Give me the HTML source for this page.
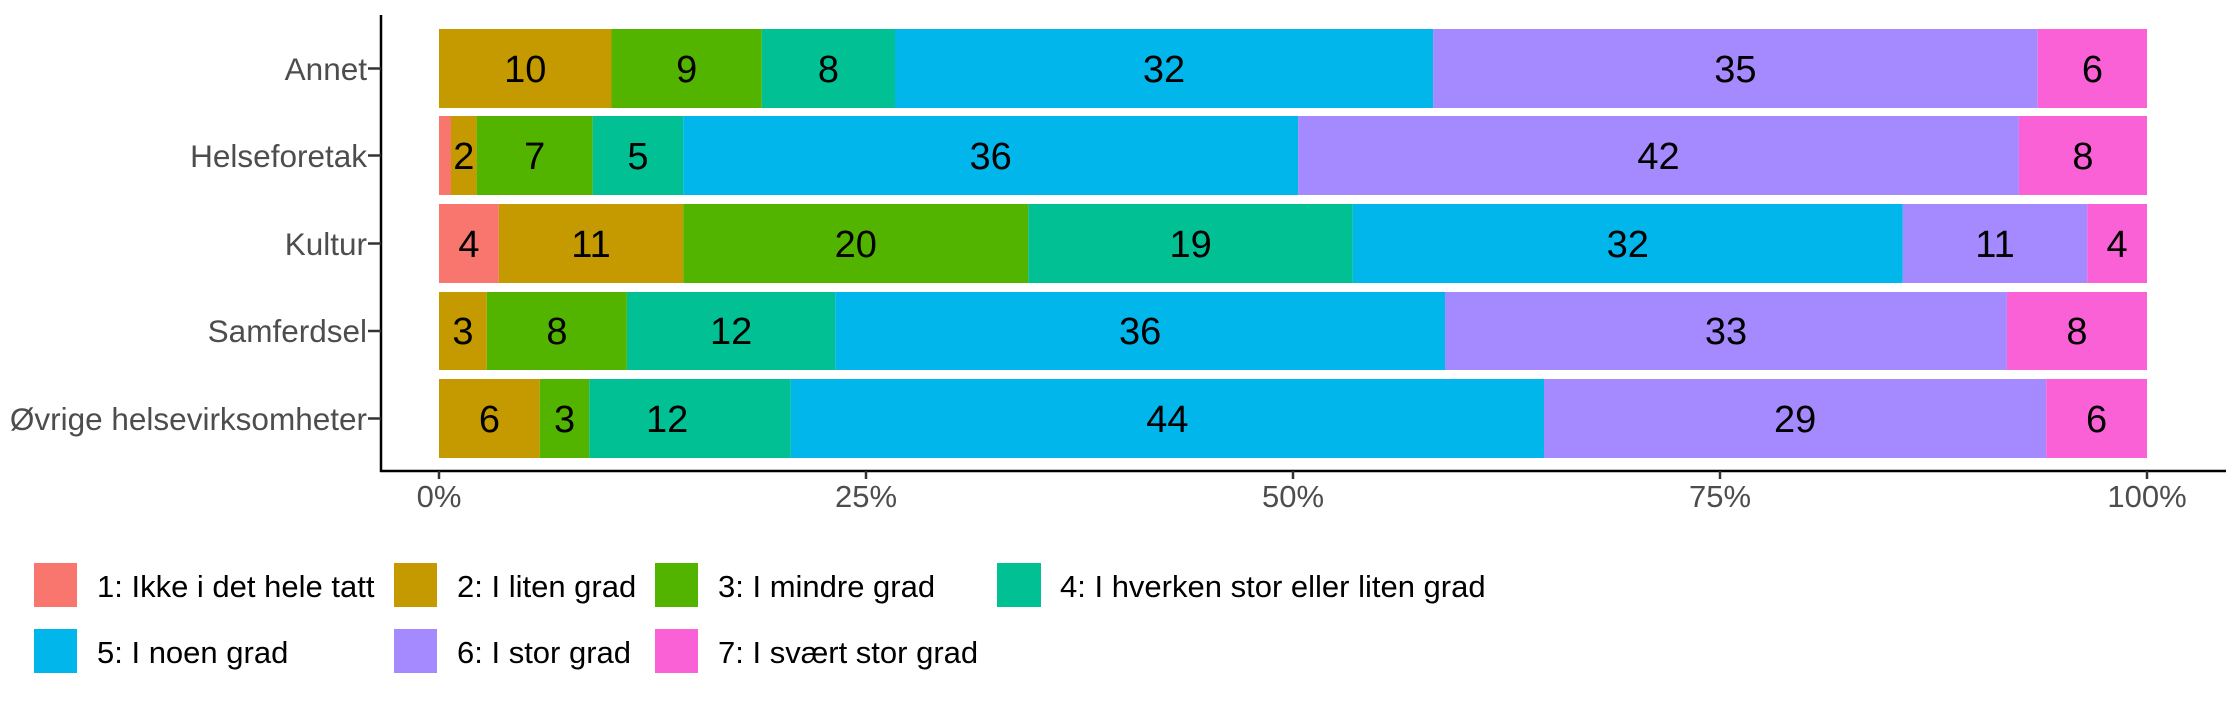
<!DOCTYPE html>
<html><head><meta charset="utf-8"><style>html,body{margin:0;padding:0;background:#fff}svg{display:block}</style></head><body>
<svg width="2240" height="707" xmlns="http://www.w3.org/2000/svg" font-family="Liberation Sans, Arial, sans-serif">
<rect width="2240" height="707" fill="#fff"/>
<g>
<rect x="439" y="29" width="172.5" height="79" fill="#C49A00"/>
<rect x="611.5" y="29" width="150.3" height="79" fill="#53B400"/>
<rect x="761.8" y="29" width="133.2" height="79" fill="#00C094"/>
<rect x="895" y="29" width="538.1" height="79" fill="#00B6EB"/>
<rect x="1433.1" y="29" width="604.6" height="79" fill="#A58AFF"/>
<rect x="2037.7" y="29" width="109.3" height="79" fill="#FB61D7"/>

<rect x="439" y="116" width="12" height="79" fill="#F8766D"/>
<rect x="451" y="116" width="25.6" height="79" fill="#C49A00"/>
<rect x="476.6" y="116" width="116.1" height="79" fill="#53B400"/>
<rect x="592.7" y="116" width="90.5" height="79" fill="#00C094"/>
<rect x="683.2" y="116" width="614.9" height="79" fill="#00B6EB"/>
<rect x="1298.1" y="116" width="720.8" height="79" fill="#A58AFF"/>
<rect x="2018.9" y="116" width="128.1" height="79" fill="#FB61D7"/>

<rect x="439" y="204" width="59.8" height="79" fill="#F8766D"/>
<rect x="498.8" y="204" width="184.4" height="79" fill="#C49A00"/>
<rect x="683.2" y="204" width="345.1" height="79" fill="#53B400"/>
<rect x="1028.3" y="204" width="324.5" height="79" fill="#00C094"/>
<rect x="1352.8" y="204" width="550" height="79" fill="#00B6EB"/>
<rect x="1902.8" y="204" width="184.4" height="79" fill="#A58AFF"/>
<rect x="2087.2" y="204" width="59.8" height="79" fill="#FB61D7"/>

<rect x="439" y="292" width="47.8" height="78" fill="#C49A00"/>
<rect x="486.8" y="292" width="140.1" height="78" fill="#53B400"/>
<rect x="626.9" y="292" width="208.4" height="78" fill="#00C094"/>
<rect x="835.3" y="292" width="609.7" height="78" fill="#00B6EB"/>
<rect x="1445" y="292" width="561.9" height="78" fill="#A58AFF"/>
<rect x="2006.9" y="292" width="140.1" height="78" fill="#FB61D7"/>

<rect x="439" y="379" width="100.8" height="79" fill="#C49A00"/>
<rect x="539.8" y="379" width="49.5" height="79" fill="#53B400"/>
<rect x="589.3" y="379" width="201.5" height="79" fill="#00C094"/>
<rect x="790.8" y="379" width="753.2" height="79" fill="#00B6EB"/>
<rect x="1544" y="379" width="502.2" height="79" fill="#A58AFF"/>
<rect x="2046.2" y="379" width="100.8" height="79" fill="#FB61D7"/>
</g>
<g font-size="38" text-anchor="middle" fill="#000">
<text x="525.3" y="82">10</text><text x="686.7" y="82">9</text><text x="828.4" y="82">8</text><text x="1164" y="82">32</text><text x="1735.4" y="82">35</text><text x="2092.4" y="82">6</text>
<text x="463.8" y="169">2</text><text x="534.7" y="169">7</text><text x="638" y="169">5</text><text x="990.7" y="169">36</text><text x="1658.5" y="169">42</text><text x="2083" y="169">8</text>
<text x="468.9" y="257">4</text><text x="591" y="257">11</text><text x="855.8" y="257">20</text><text x="1190.6" y="257">19</text><text x="1627.8" y="257">32</text><text x="1995" y="257">11</text><text x="2117.1" y="257">4</text>
<text x="462.9" y="344">3</text><text x="556.9" y="344">8</text><text x="731.1" y="344">12</text><text x="1140.2" y="344">36</text><text x="1726" y="344">33</text><text x="2077" y="344">8</text>
<text x="489.4" y="432">6</text><text x="564.6" y="432">3</text><text x="667.1" y="432">12</text><text x="1167.4" y="432">44</text><text x="1795.1" y="432">29</text><text x="2096.6" y="432">6</text>
</g>
<line x1="381" y1="15" x2="381" y2="472" stroke="#000" stroke-width="2.5"/>
<line x1="380" y1="471" x2="2226" y2="471" stroke="#000" stroke-width="2.5"/>
<g stroke="#333" stroke-width="2.5">
<line x1="368" y1="68.5" x2="381" y2="68.5"/><line x1="368" y1="155.5" x2="381" y2="155.5"/><line x1="368" y1="243.5" x2="381" y2="243.5"/><line x1="368" y1="331" x2="381" y2="331"/><line x1="368" y1="418.5" x2="381" y2="418.5"/>
<line x1="439" y1="471" x2="439" y2="479"/><line x1="866" y1="471" x2="866" y2="479"/><line x1="1293" y1="471" x2="1293" y2="479"/><line x1="1720" y1="471" x2="1720" y2="479"/><line x1="2147" y1="471" x2="2147" y2="479"/>
</g>
<g font-size="31.5" fill="#4d4d4d" text-anchor="end">
<text x="367" y="80">Annet</text><text x="367" y="167">Helseforetak</text><text x="367" y="255">Kultur</text><text x="367" y="342">Samferdsel</text><text x="367" y="430">Øvrige helsevirksomheter</text>
</g>
<g font-size="31" fill="#4d4d4d" text-anchor="middle">
<text x="439" y="507">0%</text><text x="866" y="507">25%</text><text x="1293" y="507">50%</text><text x="1720" y="507">75%</text><text x="2147" y="507">100%</text>
</g>
<g font-size="31" fill="#000">
<rect x="34" y="563" width="43" height="44" fill="#F8766D"/><text x="97" y="597">1: Ikke i det hele tatt</text>
<rect x="394" y="563" width="43" height="44" fill="#C49A00"/><text x="457" y="597">2: I liten grad</text>
<rect x="655" y="563" width="43" height="44" fill="#53B400"/><text x="718" y="597">3: I mindre grad</text>
<rect x="997" y="563" width="44" height="44" fill="#00C094"/><text x="1060" y="597">4: I hverken stor eller liten grad</text>
<rect x="34" y="629" width="43" height="44" fill="#00B6EB"/><text x="97" y="663">5: I noen grad</text>
<rect x="394" y="629" width="43" height="44" fill="#A58AFF"/><text x="457" y="663">6: I stor grad</text>
<rect x="655" y="629" width="43" height="44" fill="#FB61D7"/><text x="718" y="663">7: I svært stor grad</text>
</g>
</svg>
</body></html>
